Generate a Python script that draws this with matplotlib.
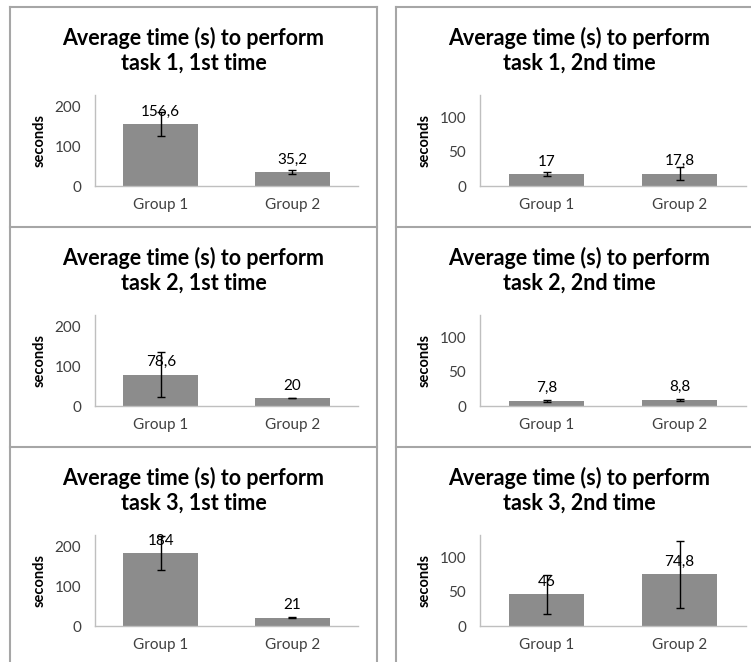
import matplotlib.pyplot as plt
from matplotlib.lines import Line2D

# Data
groups = ['Group 1', 'Group 2']
titles = ['Average time (s) to perform\ntask 1, 1st time',
          'Average time (s) to perform\ntask 1, 2nd time',
          'Average time (s) to perform\ntask 2, 1st time',
          'Average time (s) to perform\ntask 2, 2nd time',
          'Average time (s) to perform\ntask 3, 1st time',
          'Average time (s) to perform\ntask 3, 2nd time']
means = [[156.6, 35.2], [17, 17.8],
         [78.6, 20], [7.8, 8.8],
         [184, 21], [46, 74.8]]
errors = [[31, 5], [3, 9.5],
          [57, 1], [1.5, 2],
          [43, 1], [28, 48]]
labels = [['156,6', '35,2'], ['17', '17,8'],
          ['78,6', '20'], ['7,8', '8,8'],
          ['184', '21'], ['46', '74,8']]
ylims = [230, 132, 230, 132, 230, 132]
yticks_1st = [0, 100, 200]
yticks_2nd = [0, 50, 100]

W, H = 751, 662
fig = plt.figure(figsize=(W / 100, H / 100), dpi=100)
plt.rcParams['font.family'] = ['Lato', 'DejaVu Sans']

border = '#a6a6a6'
bar_color = '#8c8c8c'
text_color = '#404040'

def fx(px):
    return px / W

def fy(py):
    return 1 - py / H

# Panel borders (table-like grid)
for x0, x1 in [(10, 377), (396, 760)]:
    fig.add_artist(Line2D([fx(x0), fx(x0)], [fy(7), fy(670)], color=border, lw=1.5))
    if x1 < W:
        fig.add_artist(Line2D([fx(x1), fx(x1)], [fy(7), fy(670)], color=border, lw=1.5))
    for yy in [7, 227, 447]:
        fig.add_artist(Line2D([fx(x0), fx(min(x1, W))], [fy(yy), fy(yy)], color=border, lw=1.5))

for i in range(6):
    row, col = divmod(i, 2)
    off = row * 220
    if col == 0:
        left, right, panel_c = 95, 358, 193.5
    else:
        left, right, panel_c = 480, 746, 579
    top, bottom = 95 + off, 186 + off
    ax = fig.add_axes([fx(left), fy(bottom), fx(right - left), (bottom - top) / H])

    x = range(len(groups))
    ax.bar(x, means[i], width=0.57, color=bar_color, zorder=1)
    ax.errorbar(x, means[i], yerr=errors[i], fmt='none', ecolor='black',
                elinewidth=1.0, capsize=3, capthick=1.0, zorder=2)
    for xi, m, lab in zip(x, means[i], labels[i]):
        ax.annotate(lab, (xi, m), xytext=(0, 4), textcoords='offset points',
                    ha='center', va='bottom', fontsize=11, color='black', zorder=3)

    ax.set_xlim(-0.5, 1.5)
    ax.set_ylim(0, ylims[i])
    ax.set_yticks(yticks_1st if col == 0 else yticks_2nd)
    ax.set_xticks(list(x))
    ax.set_xticklabels(groups)
    ax.tick_params(length=0, labelsize=11, colors=text_color, pad=10)
    ax.tick_params(axis='x', pad=9)
    for s in ['top', 'right']:
        ax.spines[s].set_visible(False)
    for s in ['left', 'bottom']:
        ax.spines[s].set_color('#bfbfbf')
        ax.spines[s].set_linewidth(1)
    ax.set_ylabel('seconds', fontsize=10.5, fontweight='bold', color='black', labelpad=6)

    fig.text(fx(panel_c), fy(50 + off), titles[i], ha='center', va='center',
             fontsize=15.5, fontweight='bold', linespacing=1.2)

plt.savefig('out.png', dpi=100, facecolor='white')
